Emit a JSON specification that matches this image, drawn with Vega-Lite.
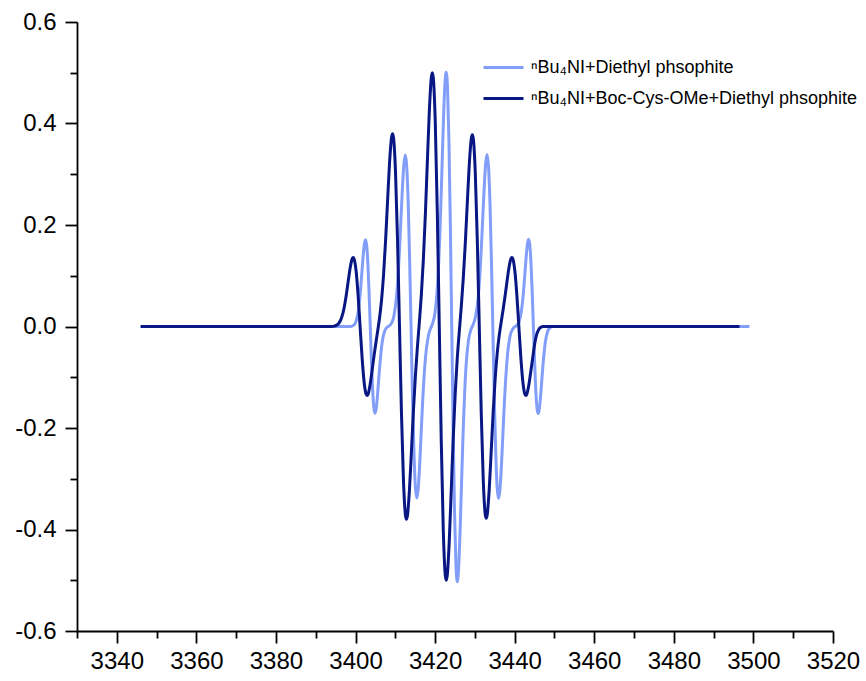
{
  "$schema": "https://vega.github.io/schema/vega-lite/v6.json",
  "autosize": {"type": "none"},
  "width": 756,
  "height": 609,
  "padding": {"left": 77, "top": 22, "right": 33, "bottom": 50},
  "background": "white",
  "config": {
    "view": {"stroke": null},
    "axis": {
      "grid": false,
      "title": null,
      "domainColor": "black",
      "domainWidth": 1.8,
      "tickColor": "black",
      "tickWidth": 1.8,
      "labelColor": "black",
      "labelFont": "Liberation Sans",
      "labelFontSize": 24
    }
  },
  "datasets": {
    "light": [
      {"field_G": 3346, "intensity": 0},
      {"field_G": 3398.8, "intensity": 0},
      {"field_G": 3399.5, "intensity": 0.0022},
      {"field_G": 3400.1, "intensity": 0.0094},
      {"field_G": 3400.7, "intensity": 0.031},
      {"field_G": 3401.3, "intensity": 0.0763},
      {"field_G": 3401.6, "intensity": 0.1067},
      {"field_G": 3401.9, "intensity": 0.1373},
      {"field_G": 3402.2, "intensity": 0.1613},
      {"field_G": 3402.5, "intensity": 0.171},
      {"field_G": 3402.8, "intensity": 0.1596},
      {"field_G": 3403.1, "intensity": 0.1244},
      {"field_G": 3403.4, "intensity": 0.0683},
      {"field_G": 3403.7, "intensity": 0},
      {"field_G": 3404.0, "intensity": -0.0683},
      {"field_G": 3404.3, "intensity": -0.1244},
      {"field_G": 3404.6, "intensity": -0.1596},
      {"field_G": 3404.9, "intensity": -0.171},
      {"field_G": 3405.2, "intensity": -0.1613},
      {"field_G": 3405.5, "intensity": -0.1373},
      {"field_G": 3405.8, "intensity": -0.1067},
      {"field_G": 3406.1, "intensity": -0.0763},
      {"field_G": 3406.7, "intensity": -0.031},
      {"field_G": 3407.3, "intensity": -0.0094},
      {"field_G": 3407.9, "intensity": -0.0018},
      {"field_G": 3408.88, "intensity": 0.0043},
      {"field_G": 3409.6, "intensity": 0.0186},
      {"field_G": 3410.33, "intensity": 0.0612},
      {"field_G": 3411.05, "intensity": 0.1508},
      {"field_G": 3411.41, "intensity": 0.2109},
      {"field_G": 3411.78, "intensity": 0.2714},
      {"field_G": 3412.14, "intensity": 0.3189},
      {"field_G": 3412.5, "intensity": 0.338},
      {"field_G": 3412.86, "intensity": 0.3155},
      {"field_G": 3413.23, "intensity": 0.2459},
      {"field_G": 3413.59, "intensity": 0.135},
      {"field_G": 3413.95, "intensity": 0},
      {"field_G": 3414.31, "intensity": -0.135},
      {"field_G": 3414.68, "intensity": -0.2459},
      {"field_G": 3415.04, "intensity": -0.3155},
      {"field_G": 3415.4, "intensity": -0.338},
      {"field_G": 3415.76, "intensity": -0.3189},
      {"field_G": 3416.13, "intensity": -0.2714},
      {"field_G": 3416.49, "intensity": -0.2109},
      {"field_G": 3416.85, "intensity": -0.1508},
      {"field_G": 3417.58, "intensity": -0.0612},
      {"field_G": 3418.3, "intensity": -0.0186},
      {"field_G": 3419.03, "intensity": -0.0008},
      {"field_G": 3419.28, "intensity": 0.0039},
      {"field_G": 3419.98, "intensity": 0.0276},
      {"field_G": 3420.68, "intensity": 0.0907},
      {"field_G": 3421.38, "intensity": 0.2236},
      {"field_G": 3421.73, "intensity": 0.3126},
      {"field_G": 3422.08, "intensity": 0.4023},
      {"field_G": 3422.43, "intensity": 0.4727},
      {"field_G": 3422.78, "intensity": 0.501},
      {"field_G": 3423.13, "intensity": 0.4676},
      {"field_G": 3423.48, "intensity": 0.3645},
      {"field_G": 3423.83, "intensity": 0.2001},
      {"field_G": 3424.18, "intensity": 0},
      {"field_G": 3424.53, "intensity": -0.2001},
      {"field_G": 3424.88, "intensity": -0.3645},
      {"field_G": 3425.23, "intensity": -0.4676},
      {"field_G": 3425.58, "intensity": -0.503},
      {"field_G": 3425.93, "intensity": -0.4727},
      {"field_G": 3426.28, "intensity": -0.4023},
      {"field_G": 3426.63, "intensity": -0.3126},
      {"field_G": 3426.98, "intensity": -0.2236},
      {"field_G": 3427.68, "intensity": -0.0907},
      {"field_G": 3428.38, "intensity": -0.0276},
      {"field_G": 3429.08, "intensity": -0.0044},
      {"field_G": 3429.43, "intensity": 0.0015},
      {"field_G": 3430.15, "intensity": 0.0186},
      {"field_G": 3430.88, "intensity": 0.0614},
      {"field_G": 3431.6, "intensity": 0.1513},
      {"field_G": 3431.96, "intensity": 0.2115},
      {"field_G": 3432.33, "intensity": 0.2722},
      {"field_G": 3432.69, "intensity": 0.3198},
      {"field_G": 3433.05, "intensity": 0.339},
      {"field_G": 3433.41, "intensity": 0.3164},
      {"field_G": 3433.78, "intensity": 0.2466},
      {"field_G": 3434.14, "intensity": 0.1354},
      {"field_G": 3434.5, "intensity": 0},
      {"field_G": 3434.86, "intensity": -0.1354},
      {"field_G": 3435.23, "intensity": -0.2466},
      {"field_G": 3435.59, "intensity": -0.3164},
      {"field_G": 3435.95, "intensity": -0.339},
      {"field_G": 3436.31, "intensity": -0.3198},
      {"field_G": 3436.68, "intensity": -0.2722},
      {"field_G": 3437.04, "intensity": -0.2115},
      {"field_G": 3437.4, "intensity": -0.1513},
      {"field_G": 3438.13, "intensity": -0.0614},
      {"field_G": 3438.85, "intensity": -0.0186},
      {"field_G": 3439.58, "intensity": -0.0042},
      {"field_G": 3440.5, "intensity": 0.0022},
      {"field_G": 3441.1, "intensity": 0.0095},
      {"field_G": 3441.7, "intensity": 0.0311},
      {"field_G": 3442.3, "intensity": 0.0768},
      {"field_G": 3442.6, "intensity": 0.1073},
      {"field_G": 3442.9, "intensity": 0.1381},
      {"field_G": 3443.2, "intensity": 0.1623},
      {"field_G": 3443.5, "intensity": 0.172},
      {"field_G": 3443.8, "intensity": 0.1605},
      {"field_G": 3444.1, "intensity": 0.1251},
      {"field_G": 3444.4, "intensity": 0.0687},
      {"field_G": 3444.7, "intensity": 0},
      {"field_G": 3445.0, "intensity": -0.0687},
      {"field_G": 3445.3, "intensity": -0.1251},
      {"field_G": 3445.6, "intensity": -0.1605},
      {"field_G": 3445.9, "intensity": -0.172},
      {"field_G": 3446.2, "intensity": -0.1623},
      {"field_G": 3446.5, "intensity": -0.1381},
      {"field_G": 3446.8, "intensity": -0.1073},
      {"field_G": 3447.1, "intensity": -0.0768},
      {"field_G": 3447.7, "intensity": -0.0311},
      {"field_G": 3448.3, "intensity": -0.0095},
      {"field_G": 3448.9, "intensity": -0.0022},
      {"field_G": 3449.6, "intensity": 0},
      {"field_G": 3499, "intensity": 0}
    ],
    "dark": [
      {"field_G": 3346, "intensity": 0},
      {"field_G": 3394, "intensity": 0},
      {"field_G": 3394.65, "intensity": 0.0008},
      {"field_G": 3395.15, "intensity": 0.0021},
      {"field_G": 3395.65, "intensity": 0.005},
      {"field_G": 3396.15, "intensity": 0.0108},
      {"field_G": 3396.65, "intensity": 0.0211},
      {"field_G": 3397.15, "intensity": 0.0376},
      {"field_G": 3397.65, "intensity": 0.0607},
      {"field_G": 3398.15, "intensity": 0.0885},
      {"field_G": 3398.65, "intensity": 0.1155},
      {"field_G": 3399.15, "intensity": 0.1334},
      {"field_G": 3399.4, "intensity": 0.136},
      {"field_G": 3399.65, "intensity": 0.1331},
      {"field_G": 3400.15, "intensity": 0.1088},
      {"field_G": 3400.65, "intensity": 0.0615},
      {"field_G": 3401.15, "intensity": 0},
      {"field_G": 3401.65, "intensity": -0.0615},
      {"field_G": 3402.15, "intensity": -0.1088},
      {"field_G": 3402.65, "intensity": -0.1331},
      {"field_G": 3402.9, "intensity": -0.136},
      {"field_G": 3403.15, "intensity": -0.1334},
      {"field_G": 3403.65, "intensity": -0.1152},
      {"field_G": 3404.15, "intensity": -0.0875},
      {"field_G": 3404.65, "intensity": -0.0578},
      {"field_G": 3405.15, "intensity": -0.0306},
      {"field_G": 3405.65, "intensity": -0.0045},
      {"field_G": 3406.05, "intensity": 0.0178},
      {"field_G": 3406.55, "intensity": 0.0532},
      {"field_G": 3407.05, "intensity": 0.1025},
      {"field_G": 3407.55, "intensity": 0.1686},
      {"field_G": 3408.05, "intensity": 0.2468},
      {"field_G": 3408.55, "intensity": 0.3226},
      {"field_G": 3409.05, "intensity": 0.3726},
      {"field_G": 3409.3, "intensity": 0.38},
      {"field_G": 3409.55, "intensity": 0.3719},
      {"field_G": 3410.05, "intensity": 0.3041},
      {"field_G": 3410.55, "intensity": 0.1718},
      {"field_G": 3411.05, "intensity": 0},
      {"field_G": 3411.55, "intensity": -0.1718},
      {"field_G": 3412.05, "intensity": -0.3041},
      {"field_G": 3412.55, "intensity": -0.3719},
      {"field_G": 3412.8, "intensity": -0.38},
      {"field_G": 3413.05, "intensity": -0.3726},
      {"field_G": 3413.55, "intensity": -0.3222},
      {"field_G": 3414.05, "intensity": -0.2461},
      {"field_G": 3414.55, "intensity": -0.1665},
      {"field_G": 3415.05, "intensity": -0.0972},
      {"field_G": 3415.55, "intensity": -0.0405},
      {"field_G": 3416.05, "intensity": 0.0096},
      {"field_G": 3416.55, "intensity": 0.0637},
      {"field_G": 3417.05, "intensity": 0.1323},
      {"field_G": 3417.55, "intensity": 0.2208},
      {"field_G": 3418.05, "intensity": 0.3244},
      {"field_G": 3418.55, "intensity": 0.4245},
      {"field_G": 3419.05, "intensity": 0.4903},
      {"field_G": 3419.3, "intensity": 0.5},
      {"field_G": 3419.55, "intensity": 0.4894},
      {"field_G": 3420.05, "intensity": 0.4001},
      {"field_G": 3420.55, "intensity": 0.2261},
      {"field_G": 3421.05, "intensity": 0},
      {"field_G": 3421.55, "intensity": -0.2261},
      {"field_G": 3422.05, "intensity": -0.4001},
      {"field_G": 3422.55, "intensity": -0.4894},
      {"field_G": 3422.8, "intensity": -0.5},
      {"field_G": 3423.05, "intensity": -0.4903},
      {"field_G": 3423.55, "intensity": -0.4245},
      {"field_G": 3424.05, "intensity": -0.3244},
      {"field_G": 3424.55, "intensity": -0.221},
      {"field_G": 3425.05, "intensity": -0.1327},
      {"field_G": 3425.55, "intensity": -0.0649},
      {"field_G": 3426.1, "intensity": -0.0076},
      {"field_G": 3426.6, "intensity": 0.0418},
      {"field_G": 3427.1, "intensity": 0.0972},
      {"field_G": 3427.6, "intensity": 0.1658},
      {"field_G": 3428.1, "intensity": 0.2449},
      {"field_G": 3428.6, "intensity": 0.3209},
      {"field_G": 3429.1, "intensity": 0.3707},
      {"field_G": 3429.35, "intensity": 0.378},
      {"field_G": 3429.6, "intensity": 0.37},
      {"field_G": 3430.1, "intensity": 0.3025},
      {"field_G": 3430.6, "intensity": 0.1709},
      {"field_G": 3431.1, "intensity": 0},
      {"field_G": 3431.6, "intensity": -0.1709},
      {"field_G": 3432.1, "intensity": -0.3025},
      {"field_G": 3432.6, "intensity": -0.37},
      {"field_G": 3432.85, "intensity": -0.378},
      {"field_G": 3433.1, "intensity": -0.3707},
      {"field_G": 3433.6, "intensity": -0.3209},
      {"field_G": 3434.1, "intensity": -0.2456},
      {"field_G": 3434.6, "intensity": -0.1678},
      {"field_G": 3435.1, "intensity": -0.1023},
      {"field_G": 3435.6, "intensity": -0.0534},
      {"field_G": 3436.05, "intensity": -0.0215},
      {"field_G": 3436.55, "intensity": 0.006},
      {"field_G": 3437.05, "intensity": 0.0312},
      {"field_G": 3437.55, "intensity": 0.0581},
      {"field_G": 3438.05, "intensity": 0.0876},
      {"field_G": 3438.55, "intensity": 0.1155},
      {"field_G": 3439.05, "intensity": 0.1334},
      {"field_G": 3439.3, "intensity": 0.136},
      {"field_G": 3439.55, "intensity": 0.1331},
      {"field_G": 3440.05, "intensity": 0.1088},
      {"field_G": 3440.55, "intensity": 0.0615},
      {"field_G": 3441.05, "intensity": 0},
      {"field_G": 3441.55, "intensity": -0.0615},
      {"field_G": 3442.05, "intensity": -0.1088},
      {"field_G": 3442.55, "intensity": -0.1331},
      {"field_G": 3442.8, "intensity": -0.136},
      {"field_G": 3443.05, "intensity": -0.1334},
      {"field_G": 3443.55, "intensity": -0.1155},
      {"field_G": 3444.05, "intensity": -0.0885},
      {"field_G": 3444.55, "intensity": -0.0607},
      {"field_G": 3445.05, "intensity": -0.033},
      {"field_G": 3445.55, "intensity": -0.015},
      {"field_G": 3446.05, "intensity": -0.006},
      {"field_G": 3446.55, "intensity": -0.0015},
      {"field_G": 3447.2, "intensity": 0},
      {"field_G": 3496.5, "intensity": 0}
    ]
  },
  "resolve": {"axis": {"x": "independent", "y": "independent"}},
  "layer": [
    {
      "data": {"name": "light"},
      "mark": {"type": "line", "interpolate": "monotone", "strokeWidth": 3, "clip": true},
      "encoding": {
        "x": {
          "field": "field_G", "type": "quantitative",
          "scale": {"domain": [3330, 3520], "nice": false, "zero": false},
          "axis": {
            "orient": "bottom",
            "values": [3340, 3360, 3380, 3400, 3420, 3440, 3460, 3480, 3500, 3520],
            "format": "d",
            "tickSize": 12,
            "labelPadding": 6,
            "labelOverlap": false,
            "labelFlush": false
          }
        },
        "y": {
          "field": "intensity", "type": "quantitative",
          "scale": {"domain": [-0.6, 0.6], "nice": false, "zero": false},
          "axis": {
            "orient": "left",
            "values": [-0.6, -0.4, -0.2, 0, 0.2, 0.4, 0.6],
            "format": ".1f",
            "labelExpr": "replace(datum.label, '\u2212', '-')",
            "tickSize": 12,
            "labelPadding": 9,
            "labelOverlap": false,
            "labelFlush": false
          }
        },
        "color": {
          "datum": "ⁿBu₄NI+Diethyl phsophite",
          "scale": {
            "domain": ["ⁿBu₄NI+Diethyl phsophite", "ⁿBu₄NI+Boc-Cys-OMe+Diethyl phsophite"],
            "range": ["#829EF8", "#081784"]
          },
          "legend": {
            "title": null,
            "orient": "none",
            "legendX": 405,
            "legendY": 24,
            "padding": 0,
            "symbolType": "stroke",
            "symbolSize": 1600,
            "symbolStrokeWidth": 3,
            "labelFont": "Liberation Sans",
            "labelFontSize": 18,
            "labelColor": "black",
            "labelOffset": 6,
            "labelLimit": 0,
            "rowPadding": -12
          }
        }
      }
    },
    {
      "data": {"name": "dark"},
      "mark": {"type": "line", "interpolate": "monotone", "strokeWidth": 3, "clip": true},
      "encoding": {
        "x": {
          "field": "field_G", "type": "quantitative",
          "axis": {
            "orient": "bottom",
            "values": [3330, 3350, 3370, 3390, 3410, 3430, 3450, 3470, 3490, 3510],
            "labels": false,
            "domain": false,
            "tickSize": 7
          }
        },
        "y": {
          "field": "intensity", "type": "quantitative",
          "axis": {
            "orient": "left",
            "values": [-0.5, -0.3, -0.1, 0.1, 0.3, 0.5],
            "labels": false,
            "domain": false,
            "tickSize": 7
          }
        },
        "color": {"datum": "ⁿBu₄NI+Boc-Cys-OMe+Diethyl phsophite"}
      }
    }
  ]
}
